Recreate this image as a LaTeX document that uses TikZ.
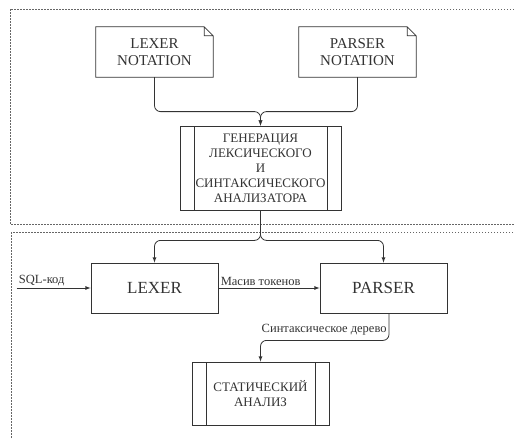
\documentclass[tikz,border=0pt]{standalone}
\usepackage{fontspec}
\setmainfont{Liberation Serif}
\usetikzlibrary{arrows}
\tikzstyle{note} = [rectangle, minimum width=117pt, minimum height=50pt, align=center, text=black!80,
font=\fontsize{15}{17}\selectfont]
\tikzstyle{block} = [rectangle, minimum width=127pt, minimum height=50pt, text centered, draw=black!80,
line width=0.8pt, text=black!80, font=\fontsize{17}{20}\selectfont]
\tikzstyle{subproc} = [rectangle, align=center, draw=black!80, line width=0.8pt, text=black!80,
font=\fontsize{13}{15}\selectfont,
path picture={\draw[black!80, line width=0.8pt]
  ([xshift=14pt]path picture bounding box.north west) -- ([xshift=14pt]path picture bounding box.south west)
  ([xshift=-14pt]path picture bounding box.north east) -- ([xshift=-14pt]path picture bounding box.south east);}]
\tikzstyle{lbl} = [font=\fontsize{12.5}{14}\selectfont, text=black!80, inner sep=2pt]
\tikzstyle{line} = [draw=black!80, line width=0.8pt]
\tikzstyle{arrow} = [line, ->, >=latex, rounded corners=6pt]
\tikzstyle{frame} = [draw=black!60, line width=0.6pt, dash pattern=on 1.5pt off 1.5pt]

\begin{document}
\begin{tikzpicture}[node distance=120pt, x=1pt, y=1pt]
    \useasboundingbox (0,0) rectangle (514,-439);
    \draw[frame] (10,-9) rectangle (530,-224);
    \draw[frame] (11,-232) rectangle (530,-450);

    \node(GEN)[subproc, minimum width=161pt, minimum height=84pt] at (260.5,-168)
      {ГЕНЕРАЦИЯ\\ЛЕКСИЧЕСКОГО\\И\\СИНТАКСИЧЕСКОГО\\АНАЛИЗАТОРА};
    \node(LEXNOT)[note, above of=GEN, xshift=-106pt, yshift=-4pt]{LEXER\\NOTATION};
    \node(PARNOT)[note, above of=GEN, xshift=97pt, yshift=-4pt]{PARSER\\NOTATION};
    \node(LEXER)[block, below of=GEN, xshift=-106pt]{LEXER};
    \node(PARSER)[block, below of=GEN, xshift=123pt]{PARSER};
    \node(STAT)[subproc, below of=GEN, yshift=-105.5pt, minimum width=137pt, minimum height=63pt]
      {СТАТИЧЕСКИЙ\\АНАЛИЗ};
    \coordinate(SQL) at ([xshift=-74pt]LEXER.west);

    % folded corners of the notations
    \foreach \n in {LEXNOT, PARNOT}
      \draw[line] (\n.south west) -- (\n.north west) -- ([xshift=-9pt]\n.north east)
        -- ([yshift=-9pt]\n.north east) -- (\n.south east) -- cycle
        ([xshift=-9pt]\n.north east) |- ([yshift=-9pt]\n.north east);

    \draw[arrow] (LEXNOT.south) |- ([yshift=14pt]GEN.north) -- (GEN.north);
    \draw[arrow] (PARNOT.south) |- ([yshift=14pt]GEN.north) -- (GEN.north);
    \draw[arrow] (GEN.south) -- ([yshift=-30pt]GEN.south) -| (LEXER.north);
    \draw[arrow] (GEN.south) -- ([yshift=-30pt]GEN.south) -| (PARSER.north);

    \draw[arrow] (SQL) node[lbl, above right]{SQL-код} -- (LEXER.west);
    \draw[arrow] (LEXER.east) node[lbl, above right]{Масив токенов} -- (PARSER.west);
    \draw[arrow] ([xshift=5.5pt]PARSER.south) -- node[lbl, left, pos=0.62]{Синтаксическое дерево}
      ++(0,-27) -| (STAT.north);
\end{tikzpicture}
\end{document}
